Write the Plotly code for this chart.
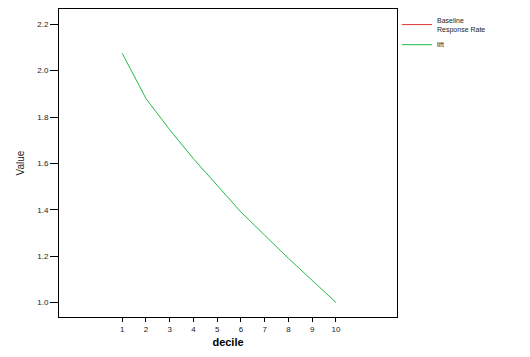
import plotly.graph_objects as go

deciles = [1, 2, 3, 4, 5, 6, 7, 8, 9, 10]
lift = [2.075, 1.88, 1.745, 1.62, 1.505, 1.39, 1.29, 1.19, 1.095, 1.0]
baseline_x = [None]
baseline_y = [None]
x_ticks = [1, 2, 3, 4, 5, 6, 7, 8, 9, 10]
y_ticks = [1.0, 1.2, 1.4, 1.6, 1.8, 2.0, 2.2]

fig = go.Figure()
fig.add_trace(go.Scatter(x=baseline_x, y=baseline_y, mode="lines",
                         name="Baseline<br>Response Rate",
                         line=dict(color="#e03030", width=1)))
fig.add_trace(go.Scatter(x=deciles, y=lift, mode="lines", name="lift",
                         line=dict(color="#22bb44", width=1)))

fig.update_layout(
    width=530, height=357,
    margin=dict(l=59, r=133, t=9, b=40),
    paper_bgcolor="white", plot_bgcolor="white",
    font=dict(family="Liberation Sans, Arial, sans-serif", size=8, color="#222"),
    showlegend=True,
    legend=dict(x=1.0, y=1.0, xanchor="left", yanchor="top",
                font=dict(size=7, color="#222"), tracegroupgap=0,
                bgcolor="rgba(0,0,0,0)"),
    xaxis=dict(range=[-1.66, 12.57], tickvals=x_ticks,
               ticktext=[str(v) for v in x_ticks],
               showline=True, linecolor="black", linewidth=1, mirror=True,
               ticks="outside", ticklen=4, tickcolor="black",
               showgrid=False, zeroline=False,
               title=dict(text="<b>decile</b>", font=dict(size=11, color="black"),
                          standoff=5)),
    yaxis=dict(range=[0.937, 2.266], tickvals=y_ticks,
               ticktext=[f"{v:.1f}" for v in y_ticks],
               showline=True, linecolor="black", linewidth=1, mirror=True,
               ticks="outside", ticklen=8, tickcolor="black",
               showgrid=False, zeroline=False,
               title=dict(text="Value", font=dict(size=10, color="#222"),
                          standoff=10)),
)

fig.write_html("out.html")
